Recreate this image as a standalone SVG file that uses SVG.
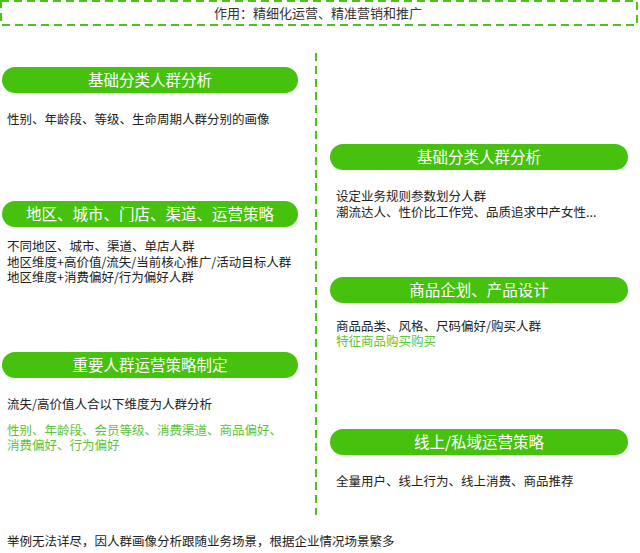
<svg xmlns="http://www.w3.org/2000/svg" width="640" height="553" viewBox="0 0 640 553">
<style>
.pill{fill:#46c10e}
.pt{font-family:"Noto Sans CJK SC","Noto Sans",sans-serif;font-size:15.5px;fill:#ffffff;text-anchor:middle}
.t{font-family:"Noto Sans CJK SC","Noto Sans",sans-serif;font-size:12.5px;fill:#222222}
.g{fill:#5cc437}
.dash{fill:none;stroke:#4cc21f;stroke-width:2;stroke-dasharray:8 5}
</style>
<rect width="640" height="553" fill="#ffffff"/>
<g id="top">
<rect class="dash" x="1" y="1" width="636" height="24"/>
<text x="318" y="17.5" text-anchor="middle" style="font-family:'Noto Sans CJK SC','Noto Sans',sans-serif;font-size:13px;fill:#333">作用：精细化运营、精准营销和推广</text>
</g>
<g id="connectors">
<line class="dash" x1="316" y1="53" x2="316" y2="515"/>
</g>
<g id="n1">
<rect class="pill" x="2" y="67" width="296" height="26" rx="13"/>
<text class="pt" x="150" y="85.5">基础分类人群分析</text>
<text class="t" x="7" y="124">性别、年龄段、等级、生命周期人群分别的画像</text>
</g>
<g id="n2">
<rect class="pill" x="2" y="201" width="296" height="26" rx="13"/>
<text class="pt" x="150" y="219.5">地区、城市、门店、渠道、运营策略</text>
<text class="t" x="7" y="251">不同地区、城市、渠道、单店人群</text>
<text class="t" x="7" y="266.5">地区维度+高价值/流失/当前核心推广/活动目标人群</text>
<text class="t" x="7" y="282">地区维度+消费偏好/行为偏好人群</text>
</g>
<g id="n3">
<rect class="pill" x="2" y="352" width="296" height="26" rx="13"/>
<text class="pt" x="150" y="370.5">重要人群运营策略制定</text>
<text class="t" x="7" y="409">流失/高价值人合以下维度为人群分析</text>
<text class="t g" x="7" y="435">性别、年龄段、会员等级、消费渠道、商品偏好、</text>
<text class="t g" x="7" y="450">消费偏好、行为偏好</text>
</g>
<g id="n4">
<rect class="pill" x="330" y="144" width="298" height="26" rx="13"/>
<text class="pt" x="479" y="162.5">基础分类人群分析</text>
<text class="t" x="336" y="201">设定业务规则参数划分人群</text>
<text class="t" x="336" y="216.5">潮流达人、性价比工作党、品质追求中产女性...</text>
</g>
<g id="n5">
<rect class="pill" x="330" y="277" width="298" height="26" rx="13"/>
<text class="pt" x="479" y="295.5">商品企划、产品设计</text>
<text class="t" x="336" y="331">商品品类、风格、尺码偏好/购买人群</text>
<text class="t g" x="336" y="346">特征商品购买购买</text>
</g>
<g id="n6">
<rect class="pill" x="330" y="429" width="298" height="26" rx="13"/>
<text class="pt" x="479" y="447.5">线上/私域运营策略</text>
<text class="t" x="336" y="486">全量用户、线上行为、线上消费、商品推荐</text>
</g>
<g id="footer">
<text class="t" x="7" y="546">举例无法详尽，因人群画像分析跟随业务场景，根据企业情况场景繁多</text>
</g>
</svg>
